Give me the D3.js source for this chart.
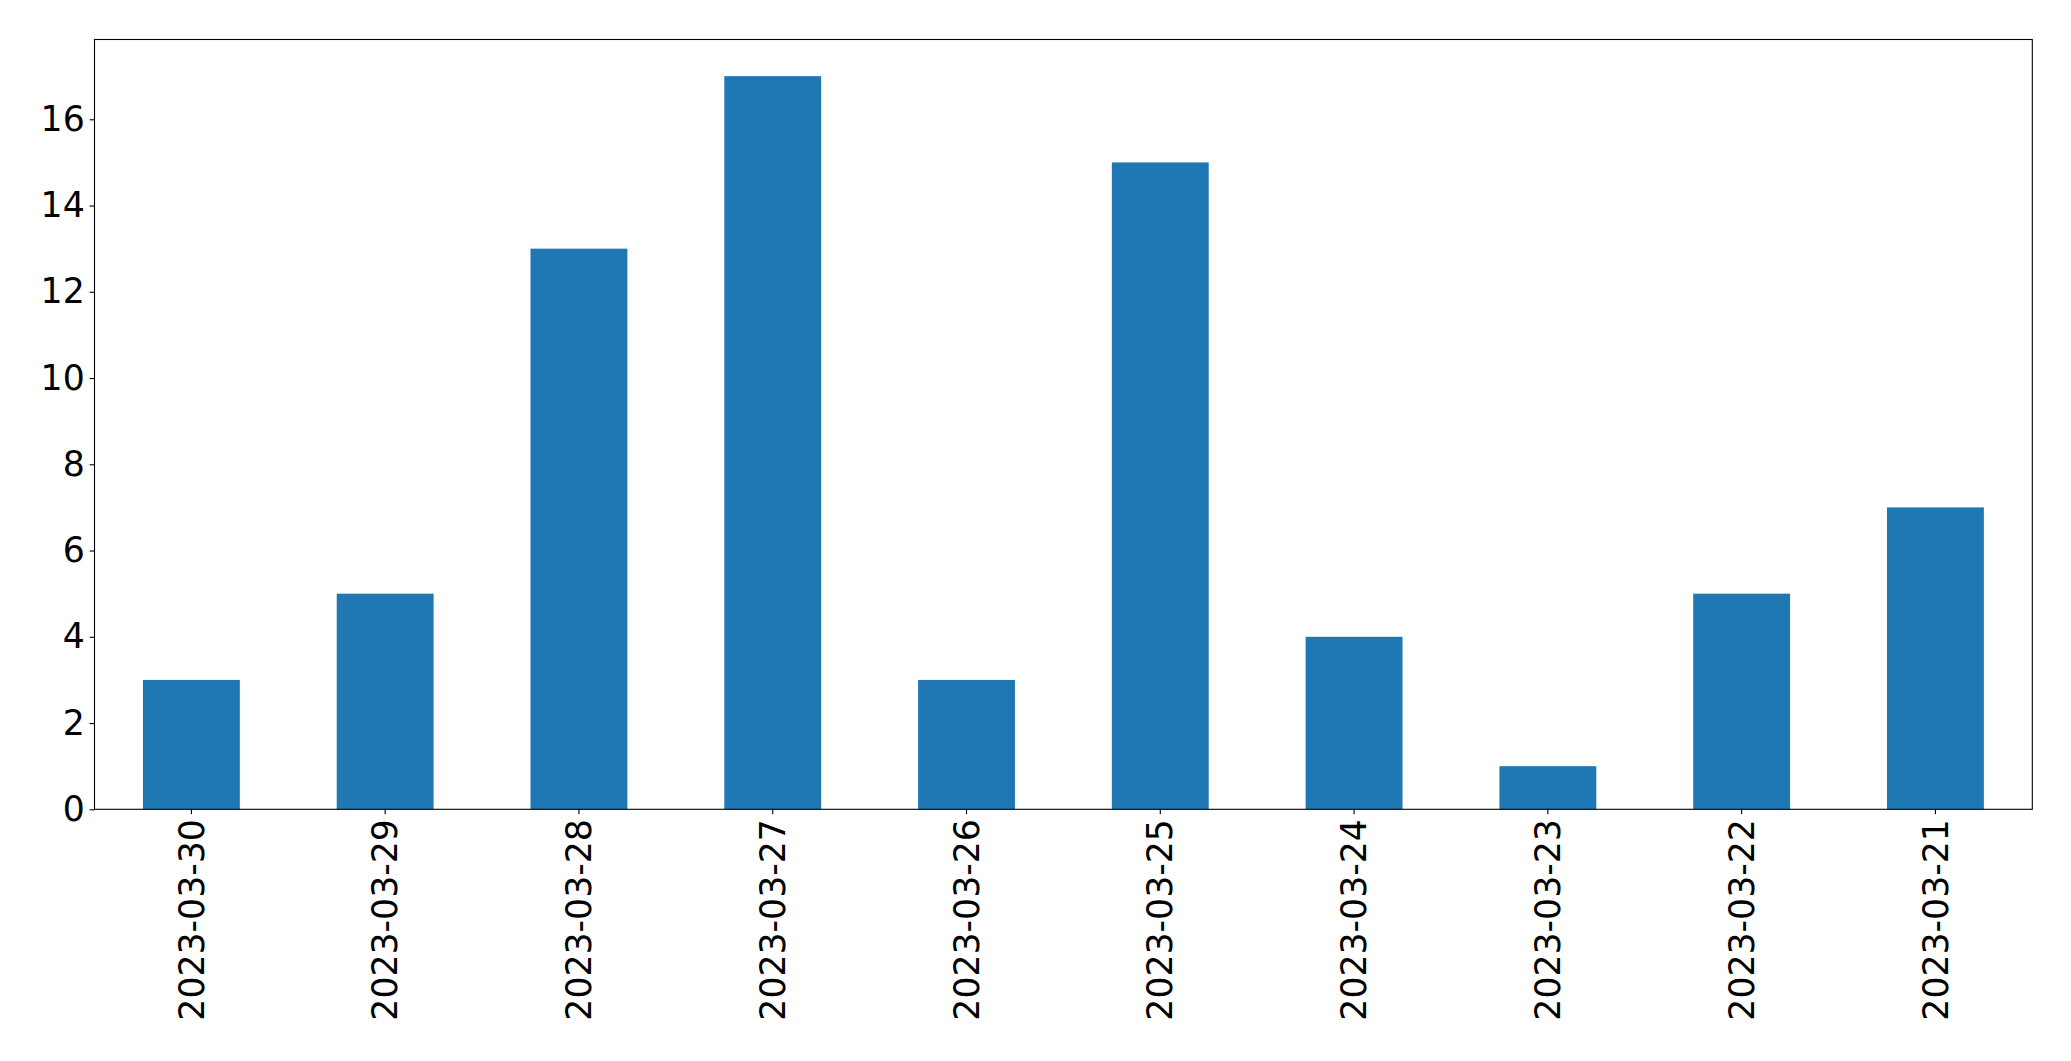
<!DOCTYPE html>
<html><head><meta charset="utf-8">
<script src="https://cdn.jsdelivr.net/npm/d3@7"></script>
<style>body{margin:0;background:#fff}svg{display:block}text{font-family:"DejaVu Sans",sans-serif}</style>
</head><body>
<script>
const categories = ["2023-03-30","2023-03-29","2023-03-28","2023-03-27","2023-03-26","2023-03-25","2023-03-24","2023-03-23","2023-03-22","2023-03-21"];
const values = [3,5,13,17,3,15,4,1,5,7];
const yTicks = [0,2,4,6,8,10,12,14,16];

const W = 2071, H = 1061;
const m = {left: 94.5, top: 39.5, right: 2071 - 2032.3, bottom: 1061 - 809.3};
const svg = d3.select("body").append("svg").attr("width", W).attr("height", H);
const iw = W - m.left - m.right, ih = H - m.top - m.bottom;
const g = svg.append("g").attr("transform", `translate(${m.left},${m.top})`);

const x = d3.scaleBand().domain(categories).range([0, iw]).paddingInner(0.5).paddingOuter(0.25);
const y = d3.scaleLinear().domain([0, d3.max(values) * 1.05]).range([ih, 0]);

g.selectAll("rect.bar").data(values).join("rect")
  .attr("x", (d, i) => x(categories[i]))
  .attr("width", x.bandwidth())
  .attr("y", d => y(d))
  .attr("height", d => ih - y(d))
  .attr("fill", "#1f77b4");

const fs = 34.7;
const ya = g.append("g").call(d3.axisLeft(y).tickValues(yTicks).tickSize(4.9).tickPadding(4.9).tickFormat(d3.format("d")));
ya.select(".domain").remove();
ya.selectAll("text").style("font-size", fs + "px").attr("fill", "#000");
ya.selectAll("line").attr("stroke", "#000").attr("stroke-width", 1.1);

const xa = g.append("g").attr("transform", `translate(0,${ih})`)
  .call(d3.axisBottom(x).tickSize(4.9).tickPadding(4.9));
xa.select(".domain").remove();
xa.selectAll("line").attr("stroke", "#000").attr("stroke-width", 1.1);
xa.selectAll("text").style("font-size", fs + "px").attr("fill", "#000")
  .attr("transform", "rotate(-90)").attr("text-anchor", "end")
  .attr("x", -9.8).attr("y", 0).attr("dy", "0.35em");

g.append("rect").attr("x", 0).attr("y", 0).attr("width", iw).attr("height", ih)
  .attr("fill", "none").attr("stroke", "#000").attr("stroke-width", 1.1);
</script>
</body></html>
